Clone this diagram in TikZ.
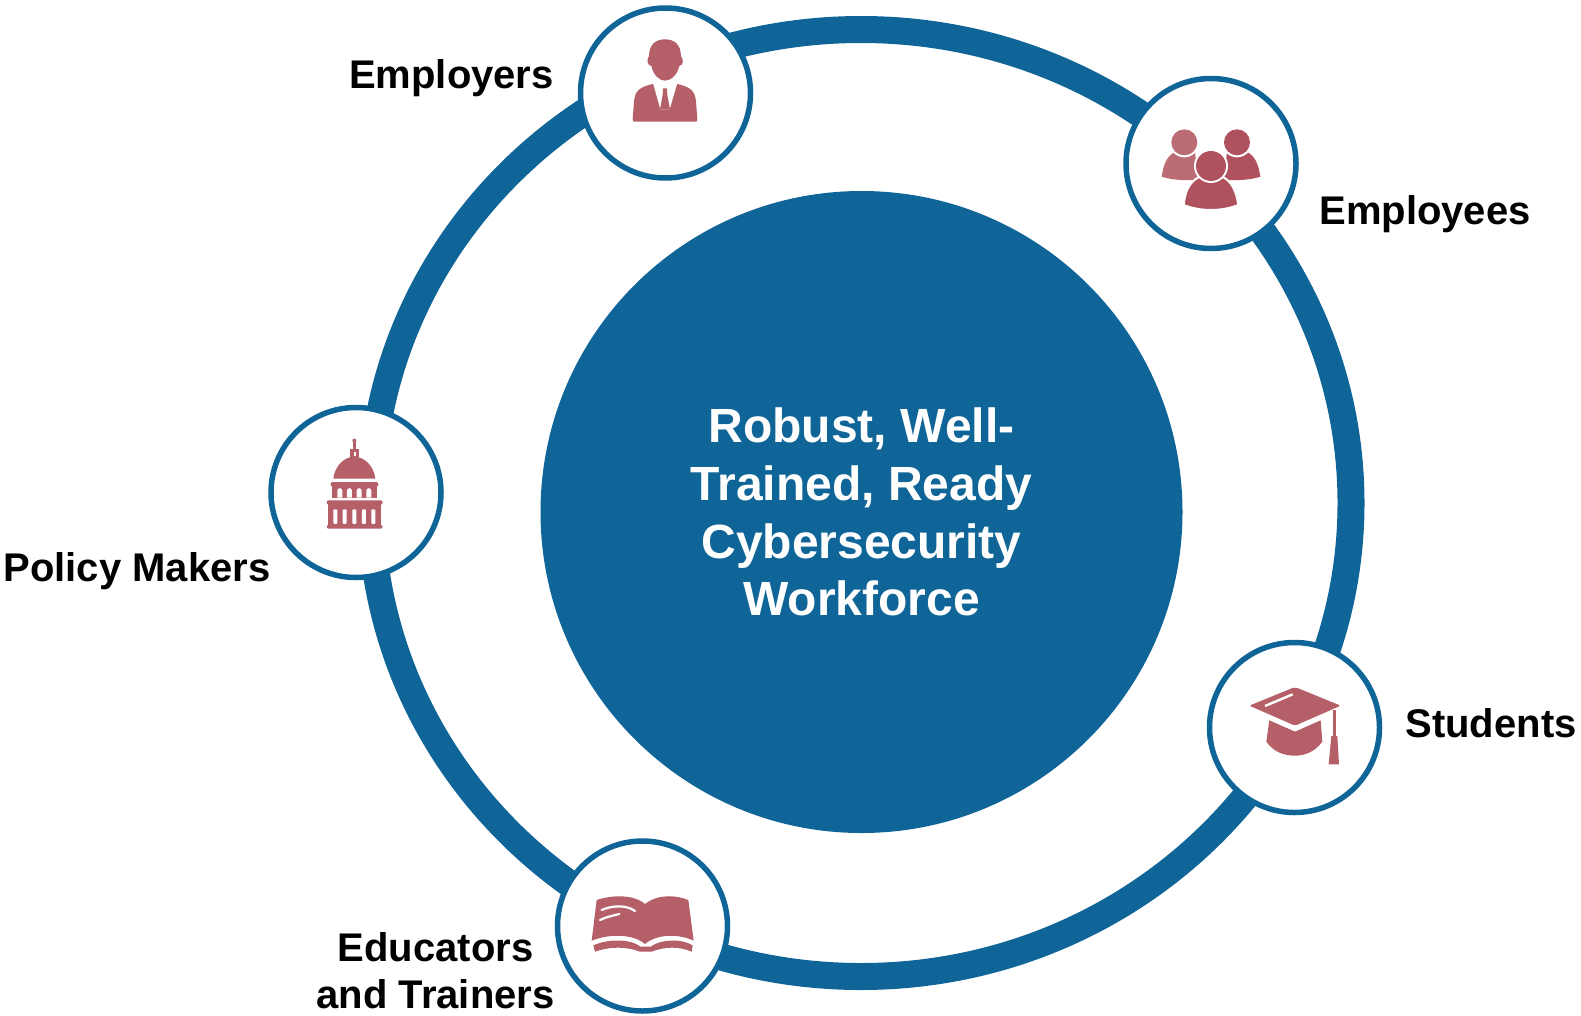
\documentclass[tikz,border=0pt]{standalone}
\usepackage{fontspec}
\setmainfont{Liberation Sans}
\definecolor{ringblue}{HTML}{106598}
\definecolor{iconred}{HTML}{B55F68}
\definecolor{iconredb}{HTML}{B0525E}
\definecolor{iconredl}{HTML}{BB6C75}
\tikzset{
  hub/.style={circle,draw=ringblue,line width=5.5pt,fill=white,minimum size=170pt,inner sep=0pt},
  lab/.style={font=\bfseries\fontsize{40}{47.3}\selectfont,text=black,inner sep=0pt,anchor=base},
  zoomed/.style={shift={#1},x=0.3333pt,y=-0.3333pt,line join=round},
}
\begin{document}
\begin{tikzpicture}[x=1pt,y=-1pt]
\useasboundingbox (0,0) rectangle (1581,1015);
\draw[ringblue,line width=27pt] (861,503) ellipse [x radius=490, y radius=473.5];
\node[circle,fill=ringblue,minimum size=642pt,inner sep=0pt,text=white,align=center,
      font=\bfseries\fontsize{48}{57.7}\selectfont] (core) at (861.5,512)
  {Robust, Well-\\Trained, Ready\\Cybersecurity\\Workforce};
\node[hub] (employers) at (665.5,93) {};
\node[hub] (employees) at (1211,163.5) {};
\node[hub] (students) at (1294.5,727.5) {};
\node[hub] (educators) at (642.5,926) {};
\node[hub] (policy) at (356,492.5) {};
\node[lab] (lemployers) at (451.5,88) {Employers};
\node[lab] (lemployees) at (1425,224) {Employees};
\node[lab] (lstudents) at (1491,737) {Students};
\node[lab] (lpolicy) at (137,581) {Policy Makers};
\node[lab] (leducators) at (435.6,961) {Educators};
\node[lab] (ltrainers) at (435.6,1008) {and Trainers};
% Employer icon
\begin{scope}[zoomed={(570,0)}]
  \fill[iconred] (285,118) .. controls (255,118) and (238,135) .. (237,168)
    .. controls (229,180) and (232,196) .. (244,198)
    .. controls (250,225) and (268,242) .. (285,242)
    .. controls (302,242) and (322,225) .. (328,198)
    .. controls (340,196) and (342,180) .. (333,168)
    .. controls (332,135) and (315,118) .. (285,118) -- cycle;
  \fill[iconred] (188,358) -- (192,305) .. controls (195,275) and (205,262) .. (248,252)
    -- (322,252) .. controls (365,262) and (375,275) .. (378,305) -- (382,358)
    .. controls (382,364) and (380,365) .. (376,365) -- (194,365) .. controls (190,365) and (188,364) .. (188,358) -- cycle;
  \fill[white] (249,249) -- (322,249) -- (299,328) -- (271,328) -- cycle;
  \fill[iconred] (279,265) -- (291,265) -- (292,285) -- (300,328) -- (270,328) -- (278,285) -- cycle;
\end{scope}
% Employees icon
\begin{scope}[zoomed={(1115,70)}]
  \fill[iconredl] (140,320) .. controls (145,285) and (155,258) .. (180,246) -- (240,246)
    -- (250,330) .. controls (210,332) and (170,330) .. (140,320) -- cycle;
  \fill[iconredb] (436,320) .. controls (431,285) and (421,258) .. (396,246) -- (336,246)
    -- (326,330) .. controls (366,332) and (406,330) .. (436,320) -- cycle;
  \fill[white] (208,217) circle (45);
  \fill[white] (366,217) circle (45);
  \fill[iconredl] (208,217) circle (39);
  \fill[iconredb] (366,217) circle (39);
  \path[draw=white,line width=2pt,fill=iconredb] (206,405) .. controls (210,365) and (222,338) .. (250,322) -- (326,322)
    .. controls (352,338) and (364,365) .. (370,405) .. controls (320,425) and (256,425) .. (206,405) -- cycle;
  \fill[white] (288,288) circle (51);
  \fill[iconredb] (288,288) circle (45);
\end{scope}
% Students icon
\begin{scope}[zoomed={(1200,635)}]
  \fill[iconred] (208,256) -- (285,290) -- (362,256) -- (367,320)
    .. controls (345,350) and (315,362) .. (285,362) .. controls (250,362) and (220,350) .. (199,320) -- cycle;
  \fill[iconred,rounded corners=2pt] (148,212) -- (285,156) -- (422,212) -- (285,272) -- cycle;
  \draw[white,line width=2.4pt] (195,213) -- (278,178);
  \draw[iconred,line width=3pt] (403,225) -- (403,305);
  \fill[iconred] (394,303) -- (412,303) -- (417,388) -- (386,388) -- cycle;
\end{scope}
% Educators icon
\begin{scope}[zoomed={(550,830)}]
  \fill[iconred] (140,210) .. controls (185,195) and (250,192) .. (285,222)
    .. controls (320,192) and (380,195) .. (415,210) -- (431,332)
    .. controls (385,310) and (320,312) .. (285,342)
    .. controls (250,312) and (180,310) .. (125,332) -- cycle;
  \fill[iconred] (130,346) .. controls (175,326) and (240,326) .. (272,350)
    -- (302,350) .. controls (335,326) and (395,326) .. (428,346) -- (425,365)
    .. controls (385,348) and (345,350) .. (305,365)
    -- (270,365) .. controls (230,350) and (185,348) .. (135,365) -- cycle;
  \draw[white,line width=2.2pt,line cap=round] (155,240) .. controls (190,225) and (230,225) .. (255,243);
  \draw[white,line width=2.2pt,line cap=round] (150,270) .. controls (170,260) and (190,257) .. (208,252);
\end{scope}
% Policy makers icon
\begin{scope}[zoomed={(265,400)}]
  \draw[iconred,line width=2.8pt] (268,118) -- (268,150);
  \fill[iconred] (268,122) circle (6);
  \fill[iconred] (255,172) -- (255,146) -- (283,146) -- (283,172) -- cycle;
  \fill[white] (266,155) rectangle (272,168);
  \fill[iconred] (205,236) .. controls (210,195) and (240,170) .. (268,170)
    .. controls (296,170) and (326,195) .. (331,236) -- cycle;
  \fill[iconred,rounded corners=2pt] (197,246) rectangle (340,260);
  \fill[iconred] (200,258) rectangle (335,293);
  \foreach \sx in {217,246,275,304}{
    \fill[white] (\sx,293) -- (\sx,272) arc[start angle=180,end angle=360,radius=7.5] -- (\sx+15,293) -- cycle;}
  \fill[iconred,rounded corners=2pt] (185,301) rectangle (353,314);
  \fill[iconred] (190,312) rectangle (348,377);
  \foreach \sx in {205,233,262,291,319}{\fill[white,rounded corners=1pt] (\sx,328) rectangle ++(12,44);}
  \fill[iconred,rounded corners=2pt] (185,375) rectangle (353,386);
\end{scope}
\end{tikzpicture}
\end{document}
